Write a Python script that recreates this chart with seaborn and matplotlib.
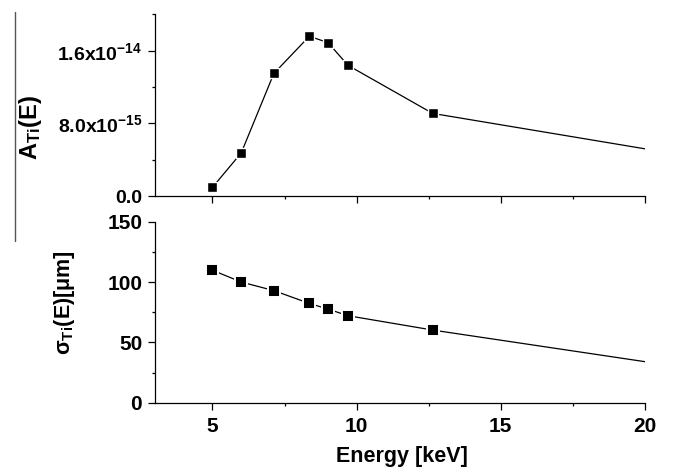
import numpy as np
import pandas as pd
import matplotlib
matplotlib.use('Agg')
import matplotlib.pyplot as plt
import seaborn as sns
from matplotlib.lines import Line2D
from matplotlib.ticker import FixedLocator, FixedFormatter, MultipleLocator

# values
energy = [5.0, 6.0, 7.13, 8.36, 9.01, 9.70, 12.64]
amp = [0.95e-15, 4.75e-15, 1.35e-14, 1.76e-14, 1.69e-14, 1.44e-14, 9.1e-15]
sigma = [109.8, 100.0, 92.9, 82.3, 77.6, 72.1, 60.2]
# the curves carry on to 20 keV without a marker
e_end = 20.0
amp_end = 5.2e-15
sigma_end = 34.0

amp_ticks = [0.0, 8.0e-15, 1.6e-14]
amp_labels = ['0.0', '8.0x10$^{-15}$', '1.6x10$^{-14}$']
sigma_ticks = [0, 50, 100, 150]
x_ticks = [5, 10, 15, 20]

sns.set_style('ticks')
plt.rcParams['font.family'] = ['Liberation Sans', 'DejaVu Sans']
plt.rcParams['font.weight'] = 'bold'
plt.rcParams['text.color'] = 'black'
plt.rcParams['axes.labelcolor'] = 'black'
plt.rcParams['xtick.color'] = 'black'
plt.rcParams['ytick.color'] = 'black'
plt.rcParams['mathtext.fontset'] = 'custom'
plt.rcParams['mathtext.rm'] = 'Liberation Sans:bold'
plt.rcParams['mathtext.bf'] = 'Liberation Sans:bold'
plt.rcParams['mathtext.default'] = 'rm'

df = pd.DataFrame({'energy': energy, 'amp': amp, 'sigma': sigma})
line_a = pd.DataFrame({'energy': energy + [e_end], 'amp': amp + [amp_end]})
line_s = pd.DataFrame({'energy': energy + [e_end], 'sigma': sigma + [sigma_end]})

fig = plt.figure(figsize=(6.73, 4.72), dpi=100)
ax1 = fig.add_axes([0.2299, 0.5847, 0.7285, 0.3846])
ax2 = fig.add_axes([0.2299, 0.1468, 0.7285, 0.3835])

sns.lineplot(data=line_a, x='energy', y='amp', ax=ax1, color='black', lw=0.9)
ax1.plot(df['energy'], df['amp'], 's', color='black', ms=6.5,
         mec='white', mew=1.0, zorder=3)
sns.lineplot(data=line_s, x='energy', y='sigma', ax=ax2, color='black', lw=0.9)
ax2.plot(df['energy'], df['sigma'], 's', color='black', ms=8.8,
         mec='white', mew=1.4, zorder=3)

for ax in (ax1, ax2):
    ax.set_xlim(3, 20)
    ax.xaxis.set_major_locator(FixedLocator(x_ticks))
    ax.xaxis.set_minor_locator(MultipleLocator(2.5))
    for s in ('top', 'right'):
        ax.spines[s].set_visible(False)
    for s in ('left', 'bottom'):
        ax.spines[s].set_linewidth(0.9)
        ax.spines[s].set_color('black')
    ax.tick_params(which='major', direction='out', length=5, width=0.9,
                   labelsize=14, pad=4)
    ax.tick_params(which='minor', direction='out', length=2.5, width=0.9)
    ax.set_xlabel('')
    ax.set_ylabel('')

ax1.set_ylim(0, 2.0e-14)
ax1.yaxis.set_major_locator(FixedLocator(amp_ticks))
ax1.yaxis.set_major_formatter(FixedFormatter(amp_labels))
ax1.yaxis.set_minor_locator(MultipleLocator(4.0e-15))
ax1.tick_params(axis='x', labelbottom=False)

ax2.set_ylim(0, 150)
ax2.yaxis.set_major_locator(FixedLocator(sigma_ticks))
ax2.yaxis.set_minor_locator(MultipleLocator(25))
ax2.tick_params(which='major', labelsize=15)
ax2.tick_params(axis='x', which='major', pad=5)

ax1.set_ylabel('A$_{Ti}$(E)', fontsize=17, fontweight='bold')
ax1.yaxis.set_label_coords(-0.226, 0.38)
ax2.set_ylabel(r'$\sigma_{Ti}$(E)[$\mu$m]', fontsize=15.5, fontweight='bold')
ax2.yaxis.set_label_coords(-0.159, 0.554)
ax2.set_xlabel('Energy [keV]', fontsize=15.5, fontweight='bold')
ax2.xaxis.set_label_coords(0.505, -0.24)

# thin stray rule at the left edge of the scan
fig.add_artist(Line2D([15.3 / 673, 15.3 / 673], [1 - 11.7 / 472, 1 - 240.5 / 472],
                      transform=fig.transFigure, color='#555555', lw=1.0))

fig.savefig('out.png', dpi=100)
